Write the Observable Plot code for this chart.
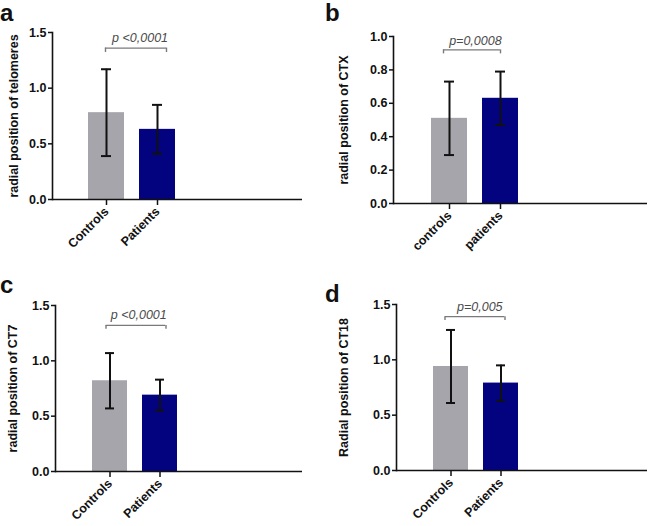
<!DOCTYPE html>
<html>
<head>
<meta charset="utf-8">
<script src="https://cdn.jsdelivr.net/npm/d3@7"></script>
<script src="https://cdn.jsdelivr.net/npm/@observablehq/plot@0.6"></script>
<style>
  body { margin: 0; background: #fff; }
  #fig { position: relative; width: 649px; height: 526px; font-family: Arial, "Liberation Sans", sans-serif; }
  .panel { position: absolute; }
  .letter { position: absolute; font-weight: bold; font-size: 24px; line-height: 1.12; color: #111; }
</style>
</head>
<body>
<div id="fig"></div>
<script>
// groups
const groupsCap = ["Controls", "Patients"];
const groupsLow = ["controls", "patients"];

// mean and SD
const meanTelomeres = [0.78, 0.63];
const sdTelomeres = [0.39, 0.22];
const meanCTX = [0.51, 0.63];
const sdCTX = [0.22, 0.16];
const meanCT7 = [0.82, 0.69];
const sdCT7 = [0.25, 0.14];
const meanCT18 = [0.94, 0.79];
const sdCT18 = [0.33, 0.16];

// significance labels
const pLabels = ["p <0,0001", "p=0,0008", "p <0,0001", "p=0,005"];
const bracketTop = [1.36, 0.92, 1.32, 1.39];
const bracketEnd = [1.32, 0.896, 1.285, 1.355];
const pLevel = [1.455, 0.975, 1.415, 1.475];

const yTicksA = [0, 0.5, 1, 1.5];
const yTicksB = [0, 0.2, 0.4, 0.6, 0.8, 1.0];

const colors = ["#a5a5ab", "#03037f"];

const panels = [
  {letter: "a", left: 0, top: 0, width: 325, height: 260, groups: groupsCap, mean: meanTelomeres, sd: sdTelomeres,
   ymax: 1.5, ticks: yTicksA, label: "radial position of telomeres",
   m: [32, 23, 61, 52], band: [88, 175], labelOffset: 43, ly: -3, bdx: [-1, 9], tdx: 8},
  {letter: "b", left: 325, top: 0, width: 324, height: 260, groups: groupsLow, mean: meanCTX, sd: sdCTX,
   ymax: 1.0, ticks: yTicksB, label: "radial position of CTX",
   m: [36, 2, 57, 68], band: [105, 193], labelOffset: 54, ly: -1, bdx: [-6, 0], tdx: 0},
  {letter: "c", left: 0, top: 260, width: 325, height: 266, groups: groupsCap, mean: meanCT7, sd: sdCT7,
   ymax: 1.5, ticks: yTicksA, label: "radial position of CT7",
   m: [45, 23, 55, 55], band: [91, 177], labelOffset: 47, ly: 12, bdx: [-4, 6], tdx: 3.5},
  {letter: "d", left: 325, top: 260, width: 324, height: 266, groups: groupsCap, mean: meanCT18, sd: sdCT18,
   ymax: 1.5, ticks: yTicksA, label: "Radial position of CT18",
   m: [44, 2, 56, 71], band: [107, 193], labelOffset: 57, ly: 21, bdx: [-6, 4], tdx: 3.5}
];

const fig = d3.select("#fig");

panels.forEach((p, k) => {
  const rows = p.groups.map((g, i) => ({group: g, mean: p.mean[i], lo: p.mean[i] - p.sd[i], hi: p.mean[i] + p.sd[i], color: colors[i]}));
  const step = (p.band[1] - p.band[0]) / 1.7;
  const halfBand = step * 0.7 / 2;
  const bracketStyle = {stroke: "#7a7a7a", strokeWidth: 1.4};

  const chart = Plot.plot({
    width: p.width,
    height: p.height,
    marginTop: p.m[0],
    marginRight: p.m[1],
    marginBottom: p.m[2],
    marginLeft: p.m[3],
    style: {fontFamily: "Arial, 'Liberation Sans', sans-serif", fontSize: "12.5px", fontWeight: "bold", color: "#111", background: "transparent", overflow: "visible"},
    x: {type: "band", domain: p.groups, range: p.band, paddingInner: 0.3, paddingOuter: 0},
    y: {domain: [0, p.ymax]},
    marks: [
      Plot.barY(rows, {x: "group", y: "mean", fill: "color"}),
      Plot.ruleX(rows, {x: "group", y1: "lo", y2: "hi", stroke: "#111", strokeWidth: 2}),
      Plot.tickY(rows, {x: "group", y: "lo", stroke: "#111", strokeWidth: 2, insetLeft: 13, insetRight: 13}),
      Plot.tickY(rows, {x: "group", y: "hi", stroke: "#111", strokeWidth: 2, insetLeft: 13, insetRight: 13}),
      // significance bracket
      Plot.ruleY([bracketTop[k]], {x1: () => p.groups[0], x2: () => p.groups[1],
        insetLeft: halfBand + p.bdx[0], insetRight: halfBand - p.bdx[1], ...bracketStyle}),
      Plot.ruleX([p.groups[0]], {x: d => d, y1: () => bracketEnd[k], y2: () => bracketTop[k], dx: p.bdx[0], ...bracketStyle}),
      Plot.ruleX([p.groups[1]], {x: d => d, y1: () => bracketEnd[k], y2: () => bracketTop[k], dx: p.bdx[1], ...bracketStyle}),
      Plot.text([pLabels[k]], {x: () => p.groups[0], y: () => pLevel[k], text: d => d, dx: step / 2 + p.tdx,
        fontStyle: "italic", fontWeight: "normal", fontSize: 12.5, fill: "#4a4a4a"}),
      Plot.ruleY([0], {stroke: "#111", strokeWidth: 1.6}),
      Plot.frame({anchor: "left", stroke: "#111", strokeWidth: 1.6}),
      Plot.axisY({ticks: p.ticks, tickFormat: d3.format(".1f"), tickSize: 4, tickPadding: 2,
        label: p.label, labelAnchor: "center", labelArrow: "none", labelOffset: p.labelOffset, strokeWidth: 1.5}),
      Plot.axisX({tickRotate: -45, tickSize: 6, tickPadding: 4, label: null, strokeWidth: 1.5})
    ]
  });

  fig.append("div").attr("class", "panel")
    .style("left", p.left + "px").style("top", p.top + "px")
    .append(() => chart);

  fig.append("div").attr("class", "letter")
    .style("left", p.left + "px").style("top", Math.max(0, p.top + p.ly) + "px")
    .text(p.letter);
});
</script>
</body>
</html>
